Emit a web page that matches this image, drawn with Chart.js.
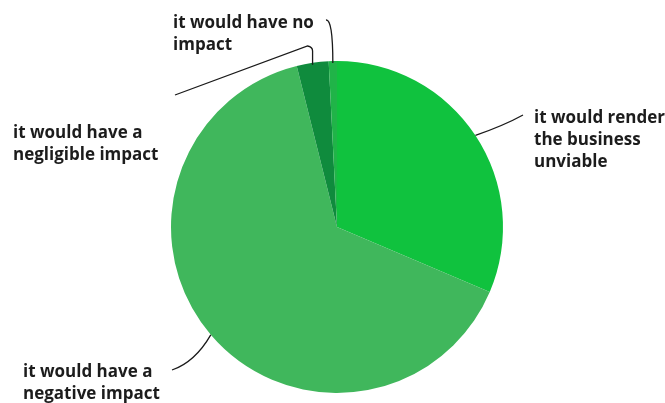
<!DOCTYPE html>
<html>
<head>
<meta charset="utf-8">
<script src="https://cdn.jsdelivr.net/npm/chart.js@4/dist/chart.umd.min.js"></script>
<style>
  html, body { margin: 0; padding: 0; background: #ffffff; }
  #wrap { width: 665px; height: 403px; position: relative; }
</style>
</head>
<body>
<div id="wrap"><canvas id="c" width="665" height="403"></canvas></div>
<script>
const categories = [
  "it would render the business unviable",
  "it would have a negative impact",
  "it would have a negligible impact",
  "it would have no impact"
];
const values = [31.4, 64.7, 3.1, 0.8];
const labelLines = [
  ["it would render", "the business", "unviable"],
  ["it would have a", "negative impact"],
  ["it would have a", "negligible impact"],
  ["it would have no", "impact"]
];
const colors = ["#10c23e", "#40b75c", "#0f8b3d", "#20b448"];

// label layout: text anchor (left x, first-line center y) and leader elbow points
const labelLayout = [
  { x: 534, y: 118, path: (p) => [[p.x, p.y], [505, 125], [523, 115]] },
  { x: 23,  y: 372, path: (p) => [[p.x, p.y], [195, 362], [172, 370]] },
  { x: 13,  y: 133, path: (p) => [[p.x, p.y + 2], [p.x, 47], [300, 48], [175, 95]] },
  { x: 173, y: 23,  path: (p) => [[p.x, p.y + 2], [p.x, 19], [326, 20]] }
];

const leaderPlugin = {
  id: 'leaders',
  afterDraw(chart) {
    const ctx = chart.ctx;
    const meta = chart.getDatasetMeta(0);
    ctx.save();
    ctx.strokeStyle = '#1a1a1a';
    ctx.lineWidth = 1.3;
    meta.data.forEach((arc, i) => {
      const mid = (arc.startAngle + arc.endAngle) / 2;
      const p = { x: arc.x + Math.cos(mid) * arc.outerRadius, y: arc.y + Math.sin(mid) * arc.outerRadius };
      const pts = labelLayout[i].path(p);
      ctx.beginPath();
      ctx.moveTo(pts[0][0], pts[0][1]);
      if (pts.length === 3) {
        ctx.quadraticCurveTo(pts[1][0], pts[1][1], pts[2][0], pts[2][1]);
      } else {
        ctx.lineTo(pts[1][0], pts[1][1] + 4);
        ctx.quadraticCurveTo(pts[1][0], pts[1][1], pts[1][0] - 5, pts[1][1] - 1);
        ctx.quadraticCurveTo(pts[2][0], pts[2][1] + 1, pts[3][0], pts[3][1]);
      }
      ctx.stroke();
    });
    ctx.fillStyle = '#1c1c1c';
    ctx.font = '700 17px "Open Sans"';
    ctx.textBaseline = 'middle';
    ctx.textAlign = 'left';
    labelLines.forEach((lines, i) => {
      const L = labelLayout[i];
      lines.forEach((t, k) => ctx.fillText(t, L.x, L.y + k * 22));
    });
    ctx.restore();
  }
};

new Chart(document.getElementById('c'), {
  type: 'pie',
  data: {
    labels: categories,
    datasets: [{
      data: values,
      backgroundColor: colors,
      borderWidth: 0
    }]
  },
  options: {
    responsive: false,
    animation: false,
    layout: { padding: { left: 171, right: 162, top: 61, bottom: 10 } },
    plugins: {
      legend: { display: false },
      tooltip: { enabled: false }
    }
  },
  plugins: [leaderPlugin]
});
</script>
</body>
</html>
